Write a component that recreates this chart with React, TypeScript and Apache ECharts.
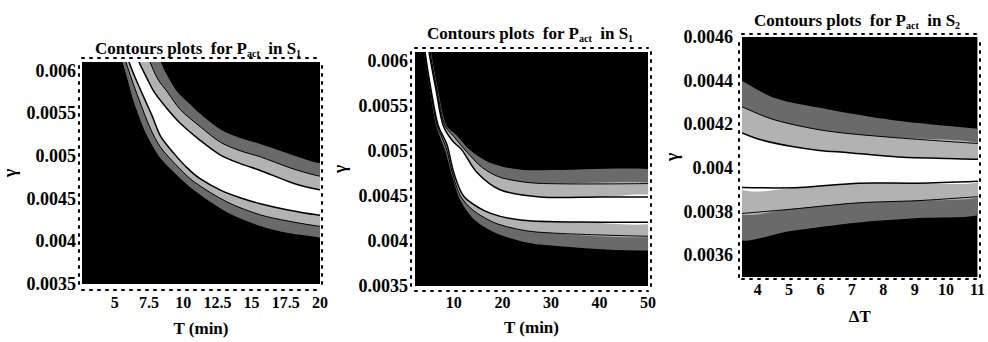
import React, { useEffect, useRef } from 'react';
import * as echarts from 'echarts';

// ---------- tick labels ----------
const p1XTicks = [5, 7.5, 10, 12.5, 15, 17.5, 20];
const p1YTicks = [0.0035, 0.004, 0.0045, 0.005, 0.0055, 0.006];
const p2XTicks = [10, 20, 30, 40, 50];
const p2YTicks = [0.0035, 0.004, 0.0045, 0.005, 0.0055, 0.006];
const p3XTicks = [4, 5, 6, 7, 8, 9, 10, 11];
const p3YTicks = [0.0036, 0.0038, 0.004, 0.0042, 0.0044, 0.0046];

// ---------- contour curves [T, gamma] ----------
// Panel 1 (S1, T 2.6..20)
const p1UpperOuter = [[7.99, 0.00623], [8.35, 0.0061], [8.84, 0.00594], [9.57, 0.00575], [10.54, 0.0056], [11.26, 0.00549], [12.72, 0.00531], [14.17, 0.00521], [15.63, 0.00514], [17.82, 0.00502], [19.77, 0.00492], [20.73, 0.0049]];
const p1UpperMid = [[7.26, 0.00623], [7.57, 0.0061], [8.14, 0.0059], [8.84, 0.00575], [9.8, 0.00554], [11.26, 0.00534], [12.72, 0.00516], [14.17, 0.00506], [15.63, 0.00499], [17.82, 0.00486], [19.77, 0.00477], [20.73, 0.00475]];
const p1UpperWhite = [[6.53, 0.00623], [6.77, 0.0061], [7.38, 0.0059], [7.87, 0.00575], [8.84, 0.00555], [9.8, 0.00538], [11.26, 0.00518], [12.72, 0.00501], [14.17, 0.00491], [15.63, 0.00483], [18.05, 0.00468], [19.77, 0.00461], [20.73, 0.00459]];
const p1LowerWhite = [[5.81, 0.00623], [6.04, 0.0061], [6.53, 0.0059], [7.14, 0.00568], [7.75, 0.00546], [8.35, 0.00523], [9.32, 0.00503], [10.29, 0.00486], [11.26, 0.00473], [12.72, 0.0046], [14.17, 0.00451], [15.63, 0.00444], [17.58, 0.00437], [19.77, 0.00431], [20.73, 0.0043]];
const p1LowerMid = [[5.56, 0.00623], [5.81, 0.0061], [6.23, 0.0059], [6.72, 0.00568], [7.63, 0.00531], [8.35, 0.0051], [9.57, 0.00488], [10.77, 0.0047], [13.21, 0.00446], [15.63, 0.00431], [17.58, 0.00424], [19.77, 0.00418], [20.73, 0.00417]];
const p1LowerOuter = [[5.32, 0.00623], [5.56, 0.0061], [5.92, 0.0059], [6.29, 0.00568], [6.7, 0.00549], [7.14, 0.00531], [7.75, 0.00512], [8.35, 0.00497], [9.57, 0.00477], [10.77, 0.0046], [13.21, 0.00434], [15.63, 0.00418], [17.58, 0.0041], [19.77, 0.00405], [20.73, 0.00403]];

// Panel 2 (S1, T 2..50)
const p2UpperOuter = [[5.09, 0.00623], [5.3, 0.0061], [6.74, 0.00568], [8.39, 0.00529], [10.45, 0.00518], [13.33, 0.00501], [17.45, 0.00487], [24.25, 0.00479], [52.5, 0.00479]];
const p2UpperMid = [[4.88, 0.00623], [5.09, 0.0061], [6.53, 0.00568], [8.08, 0.00529], [10.0, 0.00516], [12.5, 0.005], [16, 0.00481], [20, 0.0047], [27.75, 0.00464], [52.5, 0.00464]];
const p2UpperWhite = [[4.68, 0.00623], [4.88, 0.0061], [6.33, 0.00568], [7.77, 0.00529], [9.62, 0.00512], [11.68, 0.00501], [14.77, 0.00476], [19.51, 0.00457], [27.75, 0.00449], [40, 0.00449], [52.5, 0.00449]];
const p2LowerWhite = [[3.85, 0.00623], [4.06, 0.0061], [5.3, 0.00568], [6.74, 0.00529], [8.59, 0.00507], [9.83, 0.00479], [11.27, 0.00457], [12.71, 0.00446], [17.45, 0.00431], [24.25, 0.00423], [36, 0.00421], [52.5, 0.00421]];
const p2LowerMid = [[3.75, 0.00623], [3.95, 0.0061], [5.2, 0.00568], [6.54, 0.00529], [8.4, 0.00504], [9.7, 0.00476], [11.27, 0.00451], [14, 0.00434], [19, 0.00419], [27, 0.0041], [52.5, 0.00405]];
const p2LowerOuter = [[3.65, 0.00623], [3.85, 0.0061], [5.09, 0.00568], [6.33, 0.00529], [8.18, 0.00501], [9.62, 0.00473], [11.27, 0.00446], [14.36, 0.00423], [19.51, 0.00407], [27.75, 0.00396], [52.5, 0.0039]];

// Panel 3 (S2, dT 3.5..11)
const p3UpperOuter = [[3.4, 0.00441], [3.5, 0.0044], [4.54, 0.00432], [6.18, 0.00427], [8.26, 0.00422], [11, 0.00418], [11.2, 0.00418]];
const p3UpperMid = [[3.4, 0.00429], [3.5, 0.00428], [4.54, 0.00422], [6.18, 0.00417], [8.26, 0.00414], [11.2, 0.00411]];
const p3UpperWhite = [[3.4, 0.00417], [3.5, 0.00416], [4.07, 0.00413], [5.01, 0.0041], [5.96, 0.00408], [6.9, 0.00407], [8.48, 0.00405], [11, 0.00404], [11.2, 0.00404]];
const p3LowerWhite = [[3.4, 0.00391], [5.33, 0.00391], [7.22, 0.00393], [9.11, 0.00393], [11.2, 0.00394]];
const p3LowerMid = [[3.4, 0.00379], [5.01, 0.00381], [7.22, 0.00384], [9.11, 0.00385], [11.2, 0.00387]];
const p3LowerOuter = [[3.4, 0.00367], [5.01, 0.00371], [7.22, 0.00375], [9.11, 0.00377], [11.2, 0.00379]];

const FONT = 'Liberation Serif';
const LIGHT = '#b2b2b2';
const DARK = '#6a6a6a';
const SMOOTH = 0.3;

function bandSeries(idx: number, a: number[][], b: number[][], fill: string) {
  const pts = a.concat(b.slice().reverse());
  return {
    type: 'custom',
    xAxisIndex: idx * 2,
    yAxisIndex: idx * 2,
    clip: true,
    silent: true,
    data: pts,
    renderItem: (params: any, api: any) => {
      if (params.dataIndex !== 0) return null;
      const poly = pts.map((p) => api.coord(p));
      return { type: 'polygon', shape: { points: poly, smooth: SMOOTH }, style: { fill } };
    },
  };
}

function lineSeries(idx: number, a: number[][], width: number) {
  return {
    type: 'custom',
    xAxisIndex: idx * 2,
    yAxisIndex: idx * 2,
    clip: true,
    silent: true,
    data: a,
    renderItem: (params: any, api: any) => {
      if (params.dataIndex !== 0) return null;
      const poly = a.map((p) => api.coord(p));
      return { type: 'polyline', shape: { points: poly, smooth: SMOOTH }, style: { stroke: '#000', lineWidth: width, fill: null } };
    },
  };
}

function panelSeries(idx: number, uo: number[][], um: number[][], uw: number[][], lw: number[][], lm: number[][], lo: number[][]) {
  return [
    bandSeries(idx, um, uo, DARK),
    bandSeries(idx, lm, lo, DARK),
    bandSeries(idx, uw, um, LIGHT),
    bandSeries(idx, lw, lm, LIGHT),
    bandSeries(idx, lw, uw, '#ffffff'),
    lineSeries(idx, um, 1),
    lineSeries(idx, lm, 1),
    lineSeries(idx, uw, 1.5),
    lineSeries(idx, lw, 1.5),
  ];
}

const frameLine = { show: true, onZero: false, lineStyle: { color: '#000', width: 2, type: [2, 6] as any } };
const xLabelStyle = { color: '#000', fontFamily: FONT, fontSize: 16, fontWeight: 'bold' as any };
const yLabelStyle = { color: '#000', fontFamily: FONT, fontSize: 18, fontWeight: 'bold' as any };
const fmtY = (v: number) => String(Number(v.toFixed(5)));
const fmtX = (v: number) => String(Number(v.toFixed(2)));

function axesFor(
  gi: number,
  xr: number[], yr: number[], xt: number[], yt: number[],
  xName: string, off: { b: number; t: number; l: number; r: number },
  xMargin: number, yMargin: number, xNameGap: number, yNameGap: number,
) {
  const xAxes = [
    {
      type: 'value', gridIndex: gi, min: xr[0], max: xr[1], position: 'bottom', offset: off.b,
      axisLine: frameLine, axisTick: { show: false }, splitLine: { show: false },
      axisLabel: { ...xLabelStyle, customValues: xt, formatter: fmtX, margin: xMargin },
      name: xName, nameLocation: 'middle', nameGap: xNameGap, nameMoveOverlap: false,
      nameTextStyle: { color: '#000', fontFamily: FONT, fontSize: 17, fontWeight: 'bold' },
    },
    {
      type: 'value', gridIndex: gi, min: xr[0], max: xr[1], position: 'top', offset: off.t,
      axisLine: frameLine, axisTick: { show: false }, splitLine: { show: false }, axisLabel: { show: false },
    },
  ];
  const yAxes = [
    {
      type: 'value', gridIndex: gi, min: yr[0], max: yr[1], position: 'left', offset: off.l,
      axisLine: frameLine, axisTick: { show: false }, splitLine: { show: false },
      axisLabel: { ...yLabelStyle, customValues: yt, formatter: fmtY, margin: yMargin },
      name: 'γ', nameLocation: 'middle', nameGap: yNameGap, nameMoveOverlap: false,
      nameTextStyle: { color: '#000', fontFamily: FONT, fontSize: 18, fontWeight: 'bold' },
    },
    {
      type: 'value', gridIndex: gi, min: yr[0], max: yr[1], position: 'right', offset: off.r,
      axisLine: frameLine, axisTick: { show: false }, splitLine: { show: false }, axisLabel: { show: false },
    },
  ];
  return { xAxes, yAxes };
}

function titleText(x: number, y: number, sub: string) {
  return {
    type: 'text',
    x, y,
    style: {
      text: `{n|Contours plots\u00a0\u00a0for P}{s|act}{n|\u00a0\u00a0in S}{s|${sub}}`,
      align: 'center',
      verticalAlign: 'middle',
      fill: '#000',
      rich: {
        n: { fontFamily: FONT, fontSize: 17, fontWeight: 'bold', lineHeight: 20, verticalAlign: 'middle', fill: '#000' },
        s: { fontFamily: FONT, fontSize: 10, fontWeight: 'bold', lineHeight: 21, verticalAlign: 'bottom', fill: '#000' },
      },
    },
  };
}

export default function App() {
  const ref = useRef<HTMLDivElement>(null);
  useEffect(() => {
    if (!ref.current) return;
    const chart = echarts.init(ref.current, undefined, { renderer: 'svg' });
    const a1 = axesFor(0, [2.6, 20], [0.0035, 0.0061], p1XTicks, p1YTicks, 'T (min)', { b: 6, t: 4, l: 3, r: 2 }, 4, 3, 30, 60);
    const a2 = axesFor(1, [2, 50], [0.0035, 0.0061], p2XTicks, p2YTicks, 'T (min)', { b: 5, t: 4, l: 4, r: 3 }, 3, 3, 28, 62);
    const a3 = axesFor(2, [3.5, 11], [0.0035, 0.0046], p3XTicks, p3YTicks, 'ΔT', { b: 2, t: 3, l: 3, r: 2 }, 2, 6, 29, 58);
    chart.setOption({
      animation: false,
      backgroundColor: '#fff',
      textStyle: { fontFamily: FONT },
      grid: [
        { left: 81, top: 62, width: 239, height: 234, show: true, backgroundColor: '#000', borderWidth: 0 },
        { left: 415, top: 52, width: 233, height: 234, show: true, backgroundColor: '#000', borderWidth: 0 },
        { left: 742, top: 37, width: 238, height: 240, show: true, backgroundColor: '#000', borderWidth: 0 },
      ],
      xAxis: [...a1.xAxes, ...a2.xAxes, ...a3.xAxes],
      yAxis: [...a1.yAxes, ...a2.yAxes, ...a3.yAxes],
      graphic: [titleText(198, 48, '1'), titleText(530, 33, '1'), titleText(857, 20, '2')],
      series: [
        ...panelSeries(0, p1UpperOuter, p1UpperMid, p1UpperWhite, p1LowerWhite, p1LowerMid, p1LowerOuter),
        ...panelSeries(1, p2UpperOuter, p2UpperMid, p2UpperWhite, p2LowerWhite, p2LowerMid, p2LowerOuter),
        ...panelSeries(2, p3UpperOuter, p3UpperMid, p3UpperWhite, p3LowerWhite, p3LowerMid, p3LowerOuter),
      ],
    } as any);
    return () => chart.dispose();
  }, []);
  return <div ref={ref} style={{ position: 'absolute', left: 0, top: 0, width: 988, height: 342, background: '#fff' }} />;
}
